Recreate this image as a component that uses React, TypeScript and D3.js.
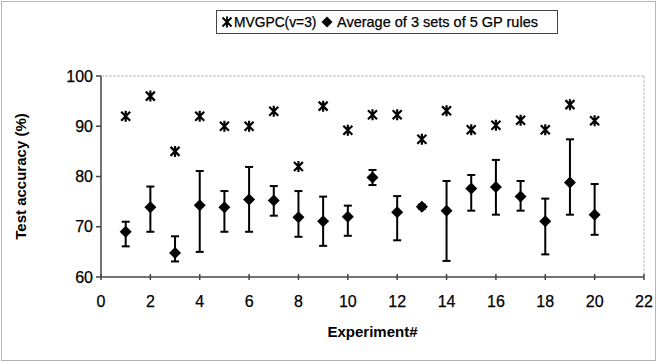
import React from 'react';
import * as d3 from 'd3';

// experiment numbers 1..20
const experiments = [1, 2, 3, 4, 5, 6, 7, 8, 9, 10, 11, 12, 13, 14, 15, 16, 17, 18, 19, 20];
// MVGPC (v=3) accuracy
const mvgpc = [92, 96, 85, 92, 90, 90, 93, 82, 94, 89.2, 92.3, 92.3, 87.4, 93.1, 89.3, 90.2, 91.2, 89.3, 94.3, 91.1];
// average of 3 sets of 5 GP rules, with error bar bounds
const gpAvg = [69, 73.9, 64.8, 74.3, 73.9, 75.4, 75.2, 71.9, 71.1, 72, 79.8, 72.9, 74, 73.2, 77.6, 77.9, 76, 71.1, 78.8, 72.4];
const gpHigh = [71, 78, 68.1, 81.1, 77.1, 81.9, 78.1, 77.1, 76, 74.2, 81.3, 76.1, 74.4, 79.1, 80.3, 83.3, 79.1, 75.6, 87.4, 78.5];
const gpLow = [66.1, 69, 63.1, 65, 69, 69, 72.2, 68, 66.2, 68.2, 78.3, 67.3, 73.6, 63.2, 73.2, 72.4, 73.2, 64.5, 72.4, 68.4];

const xTicks = [0, 2, 4, 6, 8, 10, 12, 14, 16, 18, 20, 22];
const yTicks = [60, 70, 80, 90, 100];

const W = 658;
const H = 363;
const plot = { left: 101, right: 644, top: 76, bottom: 277 };
const font = '"Liberation Sans", Arial, sans-serif';

const starPath = (s: number) =>
  `M${-s},${-s}L${s},${s}M${-s},${s}L${s},${-s}M0,${-s - 1}L0,${s + 1}`;
const diamondPath = (s: number) => `M0,${-s}L${s},0L0,${s}L${-s},0Z`;

export default function App() {
  const x = d3.scaleLinear().domain([0, 22]).range([plot.left, plot.right]);
  const y = d3.scaleLinear().domain([60, 100]).range([plot.bottom, plot.top]);

  return (
    <svg width={W} height={H} style={{ position: 'absolute', left: 0, top: 0, background: '#fff' }}>
      <rect x={1.5} y={1.5} width={W - 4} height={H - 4} fill="none" stroke="#b5b5b5" strokeWidth={1} />

      {/* legend */}
      <rect x={216.5} y={10.5} width={341} height={23} fill="#fff" stroke="#444" strokeWidth={1} />
      <path d={starPath(4.5)} transform="translate(227,22)" stroke="#000" strokeWidth={2} fill="none" />
      <text x={234} y={27} fontFamily={font} fontSize={13.8} fill="#000" stroke="#000" strokeWidth={0.25}>MVGPC(v=3)</text>
      <path d={diamondPath(5.5)} transform="translate(327,22)" fill="#000" />
      <text x={337} y={27} fontFamily={font} fontSize={14.5} fill="#000" stroke="#000" strokeWidth={0.25}>Average of 3 sets of 5 GP rules</text>

      {/* plot frame */}
      <line x1={plot.left} x2={plot.right} y1={plot.top} y2={plot.top} stroke="#bbb" strokeDasharray="3,1" />
      <line x1={plot.right} x2={plot.right} y1={plot.top} y2={plot.bottom} stroke="#bbb" strokeDasharray="3,1" />
      <line x1={plot.left} x2={plot.left} y1={plot.top} y2={plot.bottom} stroke="#444" strokeWidth={1.5} />
      <line x1={plot.left} x2={plot.right} y1={plot.bottom} y2={plot.bottom} stroke="#444" strokeWidth={1.5} />

      {yTicks.map(t => (
        <g key={`y${t}`}>
          <line x1={plot.left - 5} x2={plot.left} y1={y(t)} y2={y(t)} stroke="#444" strokeWidth={1.5} />
          <text x={plot.left - 8} y={y(t) + 5.5} textAnchor="end" fontFamily={font} fontSize={16} fill="#000" stroke="#000" strokeWidth={0.25}>{t}</text>
        </g>
      ))}
      {xTicks.map(t => (
        <g key={`x${t}`}>
          <line x1={x(t)} x2={x(t)} y1={plot.bottom - 3} y2={plot.bottom + 3} stroke="#444" strokeWidth={1.5} />
          <text x={x(t)} y={plot.bottom + 30} textAnchor="middle" fontFamily={font} fontSize={16} fill="#000" stroke="#000" strokeWidth={0.25}>{t}</text>
        </g>
      ))}

      <text x={(plot.left + plot.right) / 2} y={337} textAnchor="middle" fontFamily={font} fontWeight="bold" fontSize={15} fill="#000">Experiment#</text>
      <text transform={`translate(26,${(plot.top + plot.bottom) / 2}) rotate(-90)`} textAnchor="middle" fontFamily={font} fontWeight="bold" fontSize={15} fill="#000">Test accuracy (%)</text>

      {/* error bars */}
      {experiments.map((e, i) => (
        <g key={`e${e}`} stroke="#000" strokeWidth={2}>
          <line x1={x(e)} x2={x(e)} y1={y(gpHigh[i])} y2={y(gpLow[i])} />
          <line x1={x(e) - 4} x2={x(e) + 4} y1={y(gpHigh[i])} y2={y(gpHigh[i])} />
          <line x1={x(e) - 4} x2={x(e) + 4} y1={y(gpLow[i])} y2={y(gpLow[i])} />
        </g>
      ))}
      {experiments.map((e, i) => (
        <path key={`d${e}`} d={diamondPath(6)} transform={`translate(${x(e)},${y(gpAvg[i])})`} fill="#000" />
      ))}
      {experiments.map((e, i) => (
        <path key={`s${e}`} d={starPath(4.5)} transform={`translate(${x(e)},${y(mvgpc[i])})`} stroke="#000" strokeWidth={2.2} fill="none" />
      ))}
    </svg>
  );
}
